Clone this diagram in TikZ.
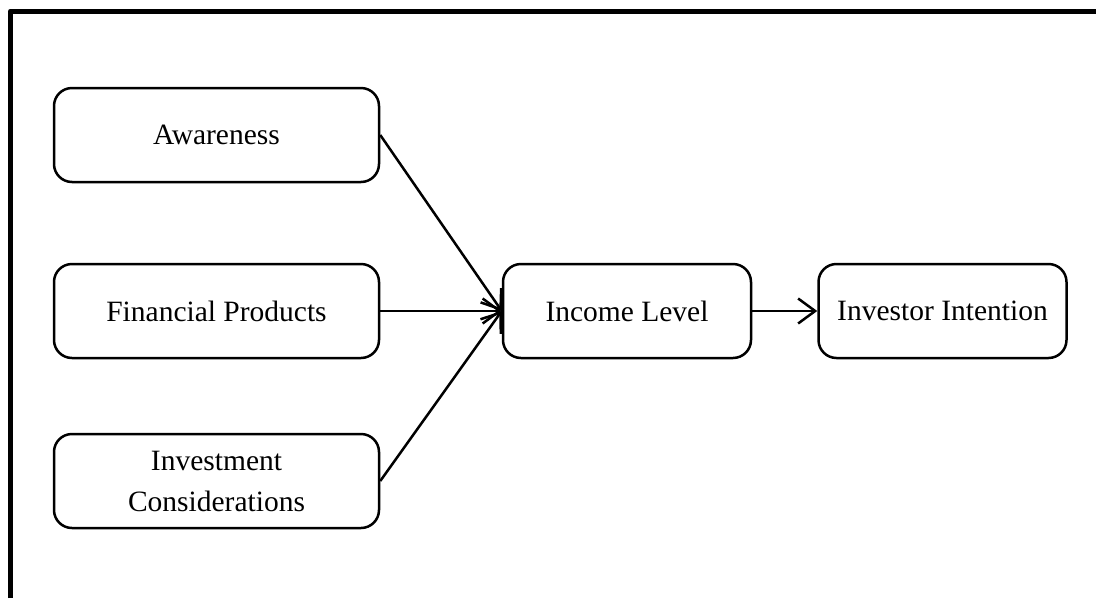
\documentclass[tikz,border=0pt]{standalone}
\usepackage{fontspec}
\setmainfont{Liberation Serif}
\usetikzlibrary{arrows.meta}
\begin{document}
\begin{tikzpicture}[x=1pt,y=-1pt,
  box/.style={draw, line width=2.5pt, rounded corners=18pt, align=center,
    font=\fontsize{29.5}{41}\selectfont, inner sep=0pt},
  wide/.style={minimum width=325pt, minimum height=94pt},
  narrow/.style={minimum width=248pt, minimum height=94pt},
  link/.style={line width=2.5pt, -{Straight Barb[length=17pt,width=25pt,line width=2.5pt]}}]
  \useasboundingbox (0,0) rectangle (1096,598);
  % frame along the top and left edges
  \draw[line width=5pt, line join=round] (10.5,598) -- (10.5,11) -- (1096,11);
  % factor boxes
  \node[box, wide] (aw) at (216.5,135) {Awareness};
  \node[box, wide] (fp) at (216.5,311) {Financial Products};
  \node[box, wide] (ic) at (216.5,481) {Investment\\Considerations};
  \node[box, narrow] (il) at (627,311) {Income Level};
  \node[box, narrow] (ii) at (942.5,311) {Investor Intention};
  % connectors
  \draw[link] (aw.east) -- (il.west);
  \draw[link] (fp.east) -- (il.west);
  \draw[link] (ic.east) -- (il.west);
  \draw[link] (il.east) -- (ii.west);
\end{tikzpicture}
\end{document}
